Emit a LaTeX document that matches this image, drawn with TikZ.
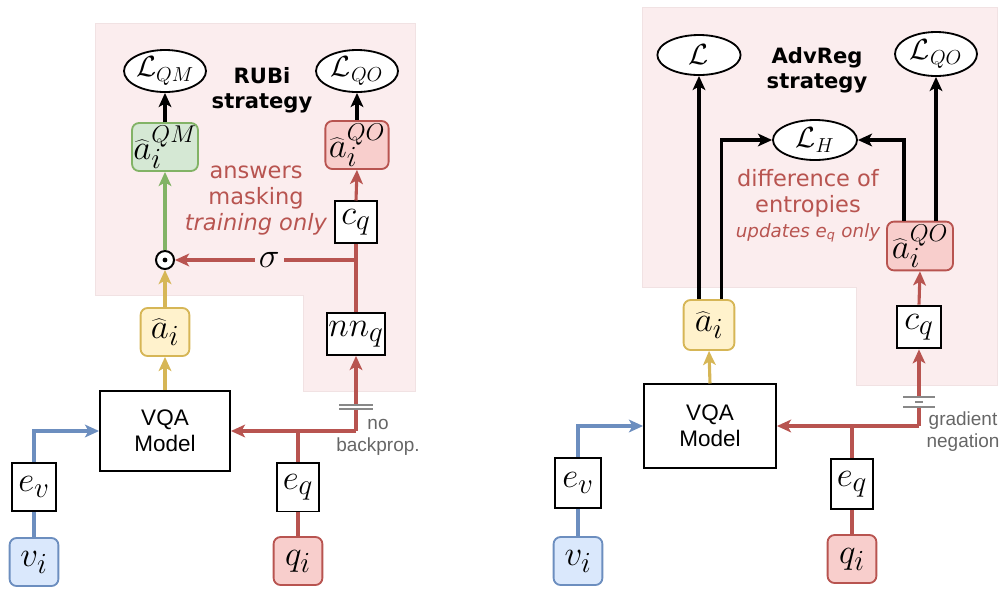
\documentclass[tikz,border=0pt]{standalone}
\usepackage{fontspec}
\setsansfont{Liberation Sans}
\newfontfamily\dejavu{DejaVu Sans}
\usetikzlibrary{shapes.geometric, arrows.meta}

\definecolor{vblue}{HTML}{DAE8FC}
\definecolor{vblueln}{HTML}{6C8EBF}
\definecolor{qred}{HTML}{F8CECC}
\definecolor{qredln}{HTML}{B85450}
\definecolor{mgreen}{HTML}{D5E8D4}
\definecolor{mgreenln}{HTML}{82B366}
\definecolor{ayellow}{HTML}{FFF2CC}
\definecolor{ayellowln}{HTML}{D6B656}
\definecolor{bgpink}{RGB}{251,237,238}
\definecolor{bgedge}{RGB}{241,226,227}
\definecolor{notegray}{HTML}{666666}
\definecolor{cutgray}{HTML}{888888}

\newcommand{\mathsz}{\fontsize{24.88}{28}\selectfont}
\newcommand{\losssz}{\fontsize{20.74}{24}\selectfont}

\begin{document}
\begin{tikzpicture}[x=0.025cm, y=-0.025cm,
    >={Stealth[length=10pt,width=9pt,inset=2.5pt]}]
    \tikzstyle{box}=[draw=black, line width=1.3pt, fill=white, inner sep=1pt,
        minimum width=1.1cm, minimum height=1.22cm, font=\mathsz]
    \tikzstyle{inbox}=[box, rounded corners=5pt, minimum width=1.22cm, minimum height=1.2cm]
    \tikzstyle{loss}=[ellipse, draw=black, line width=1.3pt, fill=white, inner sep=0pt,
        minimum width=2.05cm, minimum height=1.05cm, font=\losssz]
    \tikzstyle{model}=[draw=black, line width=1.3pt, fill=white, align=center,
        minimum width=3.25cm, minimum height=2cm, font=\sffamily\fontsize{16}{18.5}\selectfont]
    \tikzstyle{prod}=[circle, draw=black, line width=1.4pt, fill=white, inner sep=0pt,
        minimum size=0.45cm]
    \tikzstyle{title}=[align=center, font=\dejavu\bfseries\fontsize{15}{18}\selectfont]
    \tikzstyle{note}=[align=center, text=qredln, font=\dejavu\fontsize{16}{18.5}\selectfont]
    \tikzstyle{smallnote}=[align=center, text=qredln, font=\dejavu\itshape\fontsize{13}{15}\selectfont]
    \tikzstyle{grey}=[align=center, text=notegray, font=\sffamily\fontsize{13.5}{15.6}\selectfont]
    \tikzstyle{sigma}=[fill=bgpink, inner sep=3pt, font=\mathsz]
    \tikzstyle{blueln}=[draw=vblueln, line width=2.2pt]
    \tikzstyle{redln}=[draw=qredln, line width=2.2pt]
    \tikzstyle{yellowln}=[draw=ayellowln, line width=2.2pt]
    \tikzstyle{greenln}=[draw=mgreenln, line width=2.2pt]
    \tikzstyle{blackln}=[draw=black, line width=2.2pt]
    \tikzstyle{cut}=[draw=cutgray, line width=1.3pt]

    \useasboundingbox (0,0) rectangle (1002,588);

    % Draw the shaded strategy regions
    \path[fill=bgpink, draw=bgedge, line width=0.6pt]
        (95,23) -- (415,23) -- (415,391) -- (303,391) -- (303,295) -- (95,295) -- cycle;
    \path[fill=bgpink, draw=bgedge, line width=0.6pt]
        (642,7) -- (997,7) -- (997,385) -- (856,385) -- (856,287) -- (642,287) -- cycle;

    % Draw the RUBi nodes
    \node[inbox, fill=vblue, draw=vblueln] (vL) at (34,562) {$v_i$};
    \node[box, minimum width=1.12cm, minimum height=1.2cm] (evL) at (34,487) {$e_v$};
    \node[inbox, fill=qred, draw=qredln] (qL) at (298,561) {$q_i$};
    \node[box, minimum width=1.05cm] (eqL) at (298,487) {$e_q$};
    \node[model] (vqaL) at (165,431) {VQA\\Model};
    \node[inbox, fill=ayellow, draw=ayellowln] (aL) at (165,332) {$\widehat{a}_i$};
    \node[prod] (odL) at (165,260) {};
    \fill (odL) circle (1.7pt);
    \node[inbox, fill=mgreen, draw=mgreenln, minimum width=1.6cm] (aQML) at (165,147)
        {$\widehat{a}_i^{\scriptscriptstyle QM}$};
    \node[loss] (LQML) at (165,71) {$\mathcal{L}_{QM}$};
    \node[loss] (LQOL) at (357,71) {$\mathcal{L}_{QO}$};
    \node[inbox, fill=qred, draw=qredln, minimum width=1.58cm] (aQOL) at (357,145)
        {$\widehat{a}_i^{\scriptscriptstyle QO}$};
    \node[box, minimum width=1.05cm, minimum height=1.03cm] (cqL) at (356,222) {$c_q$};
    \node[box, minimum width=1.38cm, minimum height=1.05cm] (nnL) at (356,334) {$nn_q$};
    \node[title] (tL) at (262,90) {RUBi\\strategy};
    \node[note] (mL) at (256,201) {answers\\masking\\\textit{training only}};
    \node[grey] (gL) at (378,437) {no\\backprop.};
    \coordinate (jL) at (nnL |- vqaL.east);
    \coordinate (brL) at (356,407);

    % Draw the RUBi connectors
    \draw[blueln] (vL) -- (evL);
    \draw[blueln, ->] (evL.north) |- (vqaL.west);
    \draw[redln] (qL) -- (eqL);
    \draw[redln, ->] (eqL.north) |- (vqaL.east);
    \draw[redln] (jL) -- (eqL.north |- jL);
    \draw[redln, ->] (jL) -- (nnL.south);
    \draw[redln] (nnL.north) -- (cqL.south);
    \draw[redln, ->] (cqL.north) -- (aQOL.south);
    \draw[redln, ->] (nnL.north |- odL) -- node[sigma, pos=0.48] {$\sigma$} (odL.east);
    \draw[yellowln, ->] (vqaL.north) -- (aL.south);
    \draw[yellowln, ->] (aL.north) -- (odL.south);
    \draw[greenln, ->] (odL.north) -- (aQML.south);
    \draw[blackln, ->] (aQML.north) -- (LQML.south);
    \draw[blackln, ->] (aQOL.north) -- (LQOL.south);
    \fill[white] ([xshift=-0.1cm, yshift=-0.05cm]brL) rectangle ([xshift=0.1cm, yshift=0.05cm]brL);
    \draw[cut] ([xshift=-0.42cm, yshift=0.05cm]brL) -- ([xshift=0.42cm, yshift=0.05cm]brL);
    \draw[cut] ([xshift=-0.42cm, yshift=-0.05cm]brL) -- ([xshift=0.42cm, yshift=-0.05cm]brL);

    % Draw the AdvReg nodes
    \node[inbox, fill=vblue, draw=vblueln] (vR) at (578,561) {$v_i$};
    \node[box, minimum width=1.17cm, minimum height=1.25cm] (evR) at (578,483) {$e_v$};
    \node[inbox, fill=qred, draw=qredln] (qR) at (852,559) {$q_i$};
    \node[box, minimum width=1.07cm, minimum height=1.25cm] (eqR) at (852,484) {$e_q$};
    \node[model, minimum width=3.3cm, minimum height=2.08cm] (vqaR) at (710,426) {VQA\\Model};
    \node[inbox, fill=ayellow, draw=ayellowln, minimum width=1.27cm, minimum height=1.25cm]
        (aR) at (709,325) {$\widehat{a}_i$};
    \node[box, minimum width=1.1cm, minimum height=1.07cm] (cqR) at (919,327) {$c_q$};
    \node[inbox, fill=qred, draw=qredln, minimum width=1.65cm, minimum height=1.22cm]
        (aQOR) at (920,246) {$\widehat{a}_i^{\scriptscriptstyle QO}$};
    \node[loss, minimum width=2.08cm, minimum height=1cm] (LR) at (699,55) {$\mathcal{L}$};
    \node[loss, minimum width=2.05cm, minimum height=1.1cm] (LQOR) at (936,54) {$\mathcal{L}_{QO}$};
    \node[loss, minimum width=2.1cm, minimum height=1cm] (LHR) at (815,140) {$\mathcal{L}_H$};
    \node[title] (tR) at (817,70) {AdvReg\\strategy};
    \node[note] (mR) at (808,193) {difference of\\entropies};
    \node[smallnote] (uR) at (808,233) {updates e\textsubscript{q} only};
    \node[grey] (gR) at (963,432) {gradient\\negation};
    \coordinate (jR) at (cqR |- vqaR.east);
    \coordinate (brR) at (919,402);

    % Draw the AdvReg connectors
    \draw[blueln] (vR) -- (evR);
    \draw[blueln, ->] (evR.north) |- (vqaR.west);
    \draw[redln] (qR) -- (eqR);
    \draw[redln, ->] (eqR.north) |- (vqaR.east);
    \draw[redln] (jR) -- (eqR.north |- jR);
    \draw[redln, ->] (jR) -- (cqR.south);
    \draw[redln, ->] (cqR.north) -- (aQOR.south);
    \draw[yellowln, ->] (vqaR.north) -- (aR.south);
    \draw[blackln, ->] (aR.north -| LR) -- (LR.south);
    \draw[blackln, ->] ([xshift=0.32cm]aR.north) |- (LHR.west);
    \draw[blackln, ->] ([xshift=-0.4cm]aQOR.north) |- (LHR.east);
    \draw[blackln, ->] (aQOR.north -| LQOR) -- (LQOR.south);
    \fill[white] ([xshift=-0.1cm, yshift=-0.11cm]brR) rectangle ([xshift=0.1cm, yshift=0.11cm]brR);
    \draw[cut] ([xshift=-0.4cm, yshift=0.12cm]brR) -- ([xshift=0.4cm, yshift=0.12cm]brR);
    \draw[cut] ([xshift=-0.4cm, yshift=-0.12cm]brR) -- ([xshift=0.4cm, yshift=-0.12cm]brR);
    \draw[cut] ([xshift=-0.1cm]brR) -- ([xshift=0.1cm]brR);
\end{tikzpicture}
\end{document}
